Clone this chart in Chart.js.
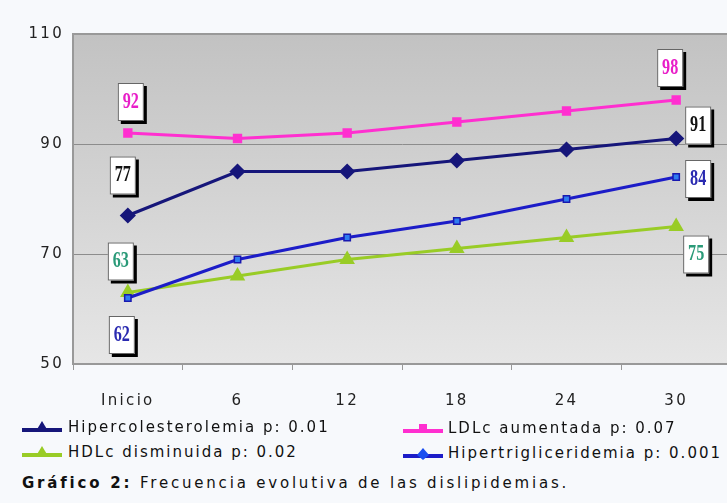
<!DOCTYPE html>
<html>
<head>
<meta charset="utf-8">
<script src="https://cdn.jsdelivr.net/npm/chart.js@4.4.0/dist/chart.umd.min.js"></script>
<style>
  html, body { margin: 0; padding: 0; }
  body {
    width: 727px; height: 503px; overflow: hidden; position: relative;
    background: #f7f9fc; font-family: "DejaVu Sans", Verdana, sans-serif; color: #111;
  }
  #chart { position: absolute; left: 0; top: 0; }
  .leg { position: absolute; font-size: 15px; letter-spacing: 2px; white-space: nowrap; line-height: 18px; }
  .leg canvas { position: absolute; left: 0; top: 2px; }
  .leg span { position: absolute; top: 0; }
  #caption { position: absolute; left: 22px; top: 474px; font-size: 15px; letter-spacing: 2.8px; white-space: nowrap; }
</style>
</head>
<body>
<canvas id="chart" width="740" height="420"></canvas>
<div id="legend"></div>
<div id="caption"><b>Gráfico 2:</b> Frecuencia evolutiva de las dislipidemias.</div>
<script>
// Data
const categories = ['Inicio', '6', '12', '18', '24', '30'];
const hipercolesterolemia = [77, 85, 85, 87, 89, 91];
const ldlAumentada = [92, 91, 92, 94, 96, 98];
const hipertrigliceridemia = [62, 69, 73, 76, 80, 84];
const hdlDisminuida = [63, 66, 69, 71, 73, 75];
const yTicks = [50, 70, 90, 110];

const seriesNames = [
    'Hipercolesterolemia p: 0.01',
    'LDLc  aumentada p: 0.07',
    'Hipertrigliceridemia p: 0.001',
    'HDLc disminuida p: 0.02'
];

// Colours per series
const navy = '#16167a';
const magenta = '#ff2fd0';
const blue = '#1c1cc8';
const green = '#99cc26';

// Which points carry a value box, and where the box sits (pixels from the point)
const boxLabels = [
    { ds: 1, i: 0, dx: 3, dy: -31, color: '#e81ec8' },
    { ds: 0, i: 0, dx: -5, dy: -40, color: '#111111' },
    { ds: 3, i: 0, dx: -7, dy: -31, color: '#2a9a78' },
    { ds: 2, i: 0, dx: -6, dy: 37, color: '#2a2ab0' },
    { ds: 1, i: 5, dx: -6, dy: -32, color: '#e81ec8' },
    { ds: 0, i: 5, dx: 22, dy: -13, color: '#111111' },
    { ds: 2, i: 5, dx: 22, dy: 2, color: '#2a2ab0' },
    { ds: 3, i: 5, dx: 20, dy: 28, color: '#2a9a78' }
];

// Grey gradient behind the plot, plus the top border
const plotBackground = {
    id: 'plotBackground',
    beforeDraw(chart) {
        const { ctx, chartArea: a } = chart;
        const g = ctx.createLinearGradient(0, a.top, 0, a.bottom);
        g.addColorStop(0, '#c2c2c2');
        g.addColorStop(1, '#e6e6e6');
        ctx.save();
        ctx.fillStyle = g;
        ctx.fillRect(a.left, a.top, a.right - a.left, a.bottom - a.top);
        ctx.restore();
        // spaced-out axis labels like the original
        ctx.letterSpacing = '2.3px';
    },
    afterDraw(chart) {
        const { ctx, chartArea: a } = chart;
        ctx.save();
        ctx.strokeStyle = '#999';
        ctx.lineWidth = 2;
        ctx.beginPath();
        ctx.moveTo(a.left, a.top);
        ctx.lineTo(a.right, a.top);
        ctx.stroke();
        ctx.restore();
    }
};

// White value boxes with a black drop shadow
const valueBoxes = {
    id: 'valueBoxes',
    afterDatasetsDraw(chart) {
        const ctx = chart.ctx;
        ctx.save();
        ctx.letterSpacing = '0px';
        boxLabels.forEach(b => {
            const pt = chart.getDatasetMeta(b.ds).data[b.i];
            const value = chart.data.datasets[b.ds].data[b.i];
            const w = 26, h = 38;
            const x = pt.x + b.dx - w / 2;
            const y = pt.y + b.dy - h / 2;
            ctx.fillStyle = '#000';
            ctx.fillRect(x + 3, y + 3, w, h);
            ctx.fillStyle = '#fff';
            ctx.fillRect(x, y, w, h);
            ctx.strokeStyle = '#666';
            ctx.lineWidth = 1;
            ctx.strokeRect(x + 0.5, y + 0.5, w - 1, h - 1);
            ctx.fillStyle = b.color;
            ctx.font = 'bold 17px "Liberation Serif", serif';
            ctx.textAlign = 'center';
            ctx.textBaseline = 'middle';
            ctx.translate(x + w / 2, y + h / 2);
            ctx.scale(0.95, 1.3);
            ctx.fillText(String(value), 0, 0);
            ctx.setTransform(1, 0, 0, 1, 0, 0);
        });
        ctx.restore();
    }
};

const ctx = document.getElementById('chart').getContext('2d');
new Chart(ctx, {
    type: 'line',
    data: {
        labels: categories,
        datasets: [
            {
                label: seriesNames[0], data: hipercolesterolemia,
                borderColor: navy, backgroundColor: navy, borderWidth: 3,
                pointStyle: 'rectRot', pointRadius: 6, pointBackgroundColor: navy, pointBorderColor: navy
            },
            {
                label: seriesNames[1], data: ldlAumentada,
                borderColor: magenta, backgroundColor: magenta, borderWidth: 3,
                pointStyle: 'rect', pointRadius: 4.5, pointBackgroundColor: magenta, pointBorderColor: magenta
            },
            {
                label: seriesNames[2], data: hipertrigliceridemia,
                borderColor: blue, backgroundColor: blue, borderWidth: 3,
                pointStyle: 'rect', pointRadius: 4.5, pointBackgroundColor: '#2f7cf0', pointBorderColor: '#1818b0',
                pointBorderWidth: 1.5
            },
            {
                label: seriesNames[3], data: hdlDisminuida,
                borderColor: green, backgroundColor: green, borderWidth: 3,
                pointStyle: 'triangle', pointRadius: 6, pointBackgroundColor: green, pointBorderColor: green
            }
        ]
    },
    options: {
        responsive: false,
        animation: false,
        layout: { padding: { top: 34, right: 7, left: 0, bottom: 0 } },
        plugins: {
            legend: { display: false },
            tooltip: { enabled: false }
        },
        scales: {
            x: {
                offset: true,
                grid: { offset: true, drawOnChartArea: false, color: '#999', tickLength: 6 },
                border: { color: '#999', width: 2 },
                ticks: {
                    color: '#222', padding: 22,
                    font: { family: '"DejaVu Sans", Verdana, sans-serif', size: 15 }
                },
                afterFit(scale) { scale.height = 56; }
            },
            y: {
                min: 50, max: 110,
                afterBuildTicks(scale) { scale.ticks = yTicks.map(v => ({ value: v })); },
                grid: { color: '#8c8c8c', drawTicks: false },
                border: { color: '#999', width: 2 },
                ticks: {
                    color: '#222', padding: 9,
                    font: { family: '"DejaVu Sans", Verdana, sans-serif', size: 15 }
                },
                afterFit(scale) { scale.width = 73; }
            }
        }
    },
    plugins: [plotBackground, valueBoxes]
});

// Two-column legend under the axis
const legendOrder = [
    { ds: 0, left: 22, top: 418, color: navy, marker: 'tri', mcolor: navy },
    { ds: 1, left: 403, top: 419, color: magenta, marker: 'rect', mcolor: magenta },
    { ds: 3, left: 22, top: 443, color: green, marker: 'tri', mcolor: green },
    { ds: 2, left: 403, top: 444, color: blue, marker: 'diamond', mcolor: '#1a4ef0' }
];
const legendTextX = [46, 45, 46, 45];
const legendEl = document.getElementById('legend');
legendOrder.forEach((it, k) => {
    const div = document.createElement('div');
    div.className = 'leg';
    div.style.left = it.left + 'px';
    div.style.top = it.top + 'px';
    const c = document.createElement('canvas');
    c.width = 40; c.height = 14;
    const g = c.getContext('2d');
    g.fillStyle = it.color;
    g.fillRect(0, 8, 40, 4);
    g.fillStyle = it.mcolor;
    g.beginPath();
    if (it.marker === 'tri') {
        g.moveTo(20, 1); g.lineTo(26, 11); g.lineTo(14, 11);
    } else if (it.marker === 'rect') {
        g.rect(16, 3, 8, 8);
    } else {
        g.moveTo(20, 2); g.lineTo(26, 9); g.lineTo(20, 14); g.lineTo(14, 9);
    }
    g.fill();
    const s = document.createElement('span');
    s.style.left = legendTextX[k] + 'px';
    s.textContent = seriesNames[it.ds];
    div.appendChild(c);
    div.appendChild(s);
    legendEl.appendChild(div);
});
</script>
</body>
</html>
